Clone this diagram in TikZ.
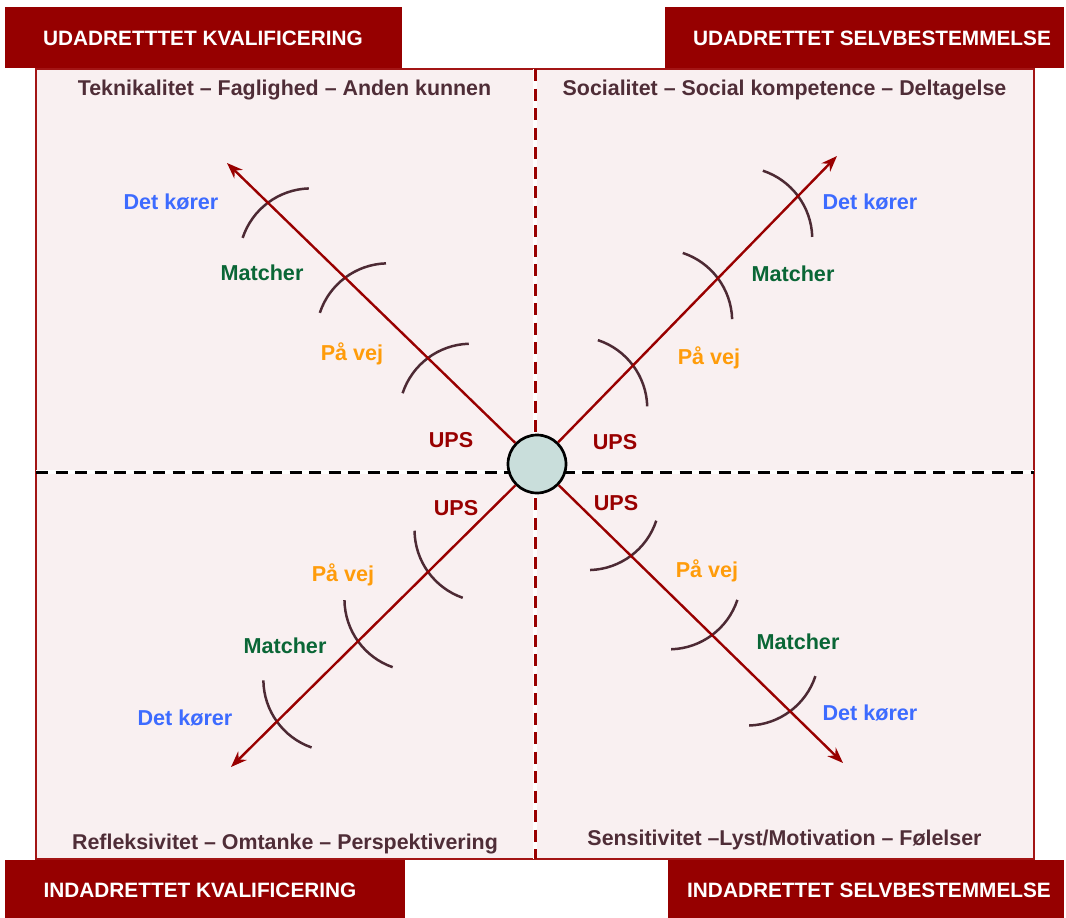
\documentclass[tikz,border=0pt]{standalone}
\usepackage{fontspec}
\setmainfont{Liberation Sans}
\usetikzlibrary{calc,arrows.meta}
\definecolor{hdr}{HTML}{960000}
\definecolor{pinkbg}{HTML}{F9F0F1}
\definecolor{framec}{HTML}{A31515}
\definecolor{subc}{HTML}{4F2D37}
\definecolor{arcc}{HTML}{4D2A34}
\definecolor{arrc}{HTML}{990000}
\definecolor{bluec}{HTML}{3D6BFF}
\definecolor{greenc}{HTML}{0A6636}
\definecolor{orangec}{HTML}{FF9C0A}
\definecolor{upsc}{HTML}{990000}
\definecolor{circc}{HTML}{C9DEDB}
\newcommand\wavearc[2]{\draw[arcst] (#1) ++(#2+180:72) ++(#2-35:72) arc[start angle=#2-35, end angle=#2+35, radius=72];}
\begin{document}
\begin{tikzpicture}[x=1pt,y=-1pt,
  hdrbox/.style={fill=hdr, draw=none, inner sep=0pt, rectangle},
  hdrtext/.style={text=white, font=\bfseries\fontsize{20.8}{24}\selectfont, inner sep=0pt, text height=14.9pt, text depth=0pt},
  subt/.style={text=subc, font=\bfseries\fontsize{21.4}{25}\selectfont, inner sep=0pt, text height=15.3pt, text depth=0pt},
  lab/.style={font=\bfseries\fontsize{21.6}{25}\selectfont, inner sep=0pt, text height=15.5pt, text depth=0pt},
  arcst/.style={draw=arcc, line width=2.5pt},
  arr/.style={draw=arrc, line width=2.4pt, -{Stealth[length=16pt,width=12pt]}},
]
\useasboundingbox (0,0) rectangle (1066,918);
% background panel
\node[rectangle, fill=pinkbg, draw=framec, line width=1.3pt, minimum width=998pt, minimum height=790pt, inner sep=0pt] (panel) at (535,464) {};
% separators
\coordinate (vt) at (535,69);
\coordinate (vb) at (535,859);
\coordinate (hl) at (36,472);
\coordinate (hr) at (1034,472);
\draw[white, line width=4.8pt] (vt) -- (vb);
\draw[white, line width=4.8pt] (hl) -- (hr);
\draw[arrc, line width=3pt, dash pattern=on 12pt off 7.5pt] (vt) -- (vb);
\draw[black, line width=3pt, dash pattern=on 12pt off 7.5pt] (hl) -- (hr);
% centre
\coordinate (o) at (537,464);
\coordinate (tNW) at (227,163);
\coordinate (tNE) at (837,156);
\coordinate (tSE) at (843,763);
\coordinate (tSW) at (231,767);
% crossing points
\coordinate (nw1) at ($(o)!0.352!(tNW)$);
\coordinate (nw2) at ($(o)!0.619!(tNW)$);
\coordinate (nw3) at ($(o)!0.868!(tNW)$);
\coordinate (ne1) at ($(o)!0.320!(tNE)$);
\coordinate (ne2) at ($(o)!0.603!(tNE)$);
\coordinate (ne3) at ($(o)!0.870!(tNE)$);
\coordinate (se1) at ($(o)!0.307!(tSE)$);
\coordinate (se2) at ($(o)!0.572!(tSE)$);
\coordinate (se3) at ($(o)!0.827!(tSE)$);
\coordinate (sw1) at ($(o)!0.356!(tSW)$);
\coordinate (sw2) at ($(o)!0.585!(tSW)$);
\coordinate (sw3) at ($(o)!0.850!(tSW)$);
% arcs
\wavearc{nw1}{-126.8}\wavearc{nw2}{-126.8}\wavearc{nw3}{-126.8}
\wavearc{ne1}{-36.7}\wavearc{ne2}{-36.7}\wavearc{ne3}{-36.7}
\wavearc{se1}{53.3}\wavearc{se2}{53.3}\wavearc{se3}{53.3}
\wavearc{sw1}{144.3}\wavearc{sw2}{144.3}\wavearc{sw3}{144.3}
% circle and arrows
\node[circle, minimum size=58pt, inner sep=0pt, fill=circc, draw=black, line width=2.7pt] (c) at (o) {};
\draw[arr] (c) -- (tNW);
\draw[arr] (c) -- (tNE);
\draw[arr] (c) -- (tSE);
\draw[arr] (c) -- (tSW);
% sub headings
\node[subt] (s1) at (284.5,88) {Teknikalitet – Faglighed – Anden kunnen};
\node[subt] (s2) at (784.5,88) {Socialitet – Social kompetence – Deltagelse};
\node[subt] (s3) at (285,842) {Refleksivitet – Omtanke – Perspektivering};
\node[subt] (s4) at (784.5,838) {Sensitivitet –Lyst/Motivation – Følelser};
% labels NW
\node[lab, text=upsc] (nwU) at (451,440) {UPS};
\node[lab, text=orangec] (nwP) at (352,353) {På vej};
\node[lab, text=greenc] (nwM) at (262,273) {Matcher};
\node[lab, text=bluec] (nwD) at (171,202) {Det kører};
% labels NE
\node[lab, text=upsc] (neU) at (615,442) {UPS};
\node[lab, text=orangec] (neP) at (709,357) {På vej};
\node[lab, text=greenc] (neM) at (793,274) {Matcher};
\node[lab, text=bluec] (neD) at (870,202) {Det kører};
% labels SW
\node[lab, text=upsc] (swU) at (456,508) {UPS};
\node[lab, text=orangec] (swP) at (343,574) {På vej};
\node[lab, text=greenc] (swM) at (285,646) {Matcher};
\node[lab, text=bluec] (swD) at (185,718) {Det kører};
% labels SE
\node[lab, text=upsc] (seU) at (616,503) {UPS};
\node[lab, text=orangec] (seP) at (707,570) {På vej};
\node[lab, text=greenc] (seM) at (798,642) {Matcher};
\node[lab, text=bluec] (seD) at (870,713) {Det kører};
% headers
\node[hdrbox, minimum width=397pt, minimum height=61pt] (h1) at (203.5,37.5) {};
\node[hdrbox, minimum width=399pt, minimum height=61pt] (h2) at (864.5,37.5) {};
\node[hdrbox, minimum width=400pt, minimum height=58pt] (h3) at (205,889) {};
\node[hdrbox, minimum width=396pt, minimum height=58pt] (h4) at (866,889) {};
\node[hdrtext] (h1t) at (203,38) {UDADRETTTET KVALIFICERING};
\node[hdrtext] (h2t) at (872,38) {UDADRETTET SELVBESTEMMELSE};
\node[hdrtext] (h3t) at (200,890) {INDADRETTET KVALIFICERING};
\node[hdrtext] (h4t) at (869,890) {INDADRETTET SELVBESTEMMELSE};
\end{tikzpicture}
\end{document}
